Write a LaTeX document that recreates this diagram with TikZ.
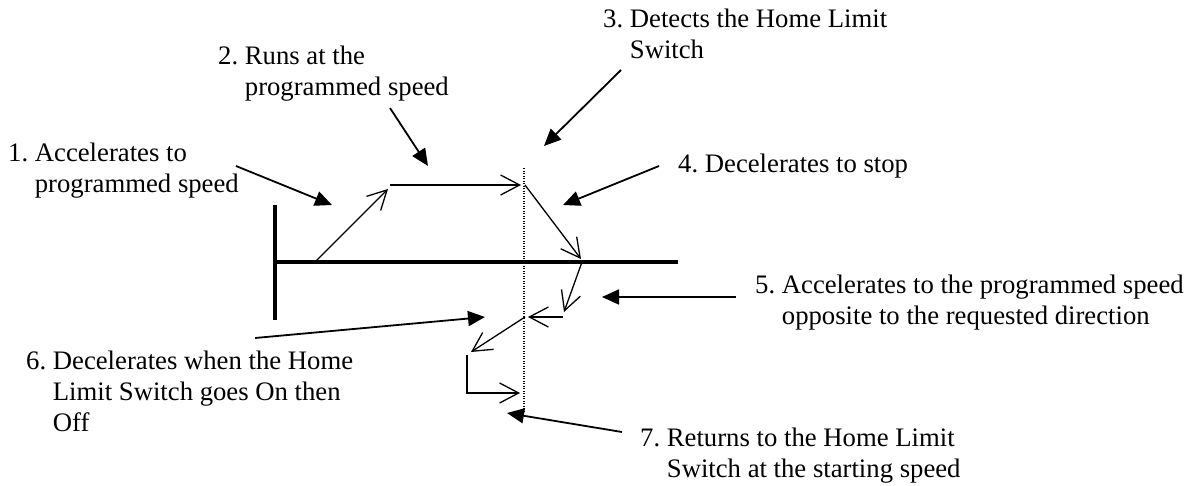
\documentclass[tikz,border=0pt]{standalone}
\usepackage{fontspec}
\setmainfont{Liberation Serif}
\usetikzlibrary{arrows.meta}
\newcommand{\steptext}[2]{\begin{tabular}[t]{@{}l@{\ }l@{}}#1&\begin{tabular}[t]{@{}l@{}}#2\end{tabular}\end{tabular}}
\begin{document}
\begin{tikzpicture}[x=1pt,y=-1pt,
    steplabel/.style={anchor=base west,inner sep=0pt,font=\fontsize{26.7}{31}\selectfont},
    motion/.style={line width=1.3pt,-{Straight Barb[length=19pt,width=20pt]}},
    pointer/.style={line width=1.8pt,-{Triangle[length=17pt,width=15pt]}},
    thickbar/.style={line width=3.5pt},
    homeline/.style={line width=1.3pt,dash pattern=on 1.2pt off 1.3pt}]
  \useasboundingbox (0,0) rectangle (1197,485);
  \draw
    (8,161) node[steplabel] (l1){\steptext{1.}{Accelerates to\\programmed speed}}
    (218,64) node[steplabel] (l2){\steptext{2.}{Runs at the\\programmed speed}}
    (603,27) node[steplabel] (l3){\steptext{3.}{Detects the Home Limit\\Switch}}
    (678,172) node[steplabel] (l4){\steptext{4.}{Decelerates to stop}}
    (755,293) node[steplabel] (l5){\steptext{5.}{Accelerates to the programmed speed\\opposite to the requested direction}}
    (26,369) node[steplabel] (l6){\steptext{6.}{Decelerates when the Home\\Limit Switch goes On then\\Off}}
    (640,446) node[steplabel] (l7){\steptext{7.}{Returns to the Home Limit\\Switch at the starting speed}};
  % axes and home switch
  \coordinate (w0) at (275,205);
  \coordinate (w1) at (275,320);
  \coordinate (h0) at (275,262);
  \coordinate (h1) at (678,262);
  \coordinate (d0) at (524,168);
  \coordinate (d1) at (524,412);
  % motion profile
  \coordinate (m0) at (315,262);
  \coordinate (m1) at (388,189);
  \coordinate (m2) at (390,185);
  \coordinate (m3) at (521,185);
  \coordinate (m4) at (525,185);
  \coordinate (m5) at (581,259);
  \coordinate (m6) at (582,262);
  \coordinate (m7) at (564,312);
  \coordinate (m8) at (563,317);
  \coordinate (m9) at (528,317);
  \coordinate (m10) at (525,317);
  \coordinate (m11) at (471,352);
  \coordinate (m12) at (467,355);
  \coordinate (m13) at (467,393);
  \coordinate (m14) at (520,393);
  % pointer ends
  \coordinate (s1) at (236,166);
  \coordinate (e1) at (332,205);
  \coordinate (s2) at (390,108);
  \coordinate (e2) at (428,166);
  \coordinate (s3) at (621,70);
  \coordinate (e3) at (544,146);
  \coordinate (s4) at (659,166);
  \coordinate (e4) at (563,205);
  \coordinate (s5) at (736,297);
  \coordinate (e5) at (602,297);
  \coordinate (s6) at (255,338);
  \coordinate (e6) at (485,317);
  \coordinate (s7) at (622,432);
  \coordinate (e7) at (507,413);
  \draw[thickbar] (w0) to (w1);
  \draw[thickbar] (h0) to (h1);
  \draw[homeline] (d0) to (d1);
  \begin{scope}[motion]
    \draw (m0) to (m1);
    \draw (m2) to (m3);
    \draw (m4) to (m5);
    \draw (m6) to (m7);
    \draw (m8) to (m9);
    \draw (m10) to (m11);
    \draw (m12) -- (m13) -- (m14);
  \end{scope}
  \begin{scope}[pointer]
    \draw (s1) to (e1);
    \draw (s2) to (e2);
    \draw (s3) to (e3);
    \draw (s4) to (e4);
    \draw (s5) to (e5);
    \draw (s6) to (e6);
    \draw (s7) to (e7);
  \end{scope}
\end{tikzpicture}
\end{document}
